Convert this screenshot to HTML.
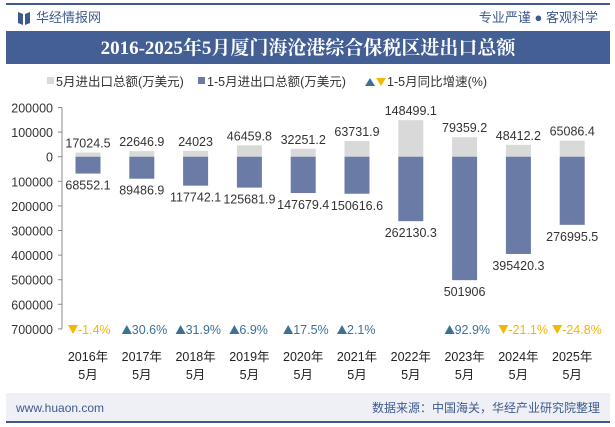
<!DOCTYPE html>
<html><head><meta charset="utf-8"><style>
body{margin:0;width:615px;height:427px;overflow:hidden;background:#fff;font-family:"Liberation Sans","Noto Sans CJK SC",sans-serif}
</style></head><body>
<svg width="615" height="427" xmlns="http://www.w3.org/2000/svg" style="position:absolute;left:0;top:0" font-family="Liberation Sans, Noto Sans CJK SC, sans-serif">
<rect x="6" y="3" width="604" height="2" fill="#3e5a8c"/>
<g>
<path d="M18 12 L23 14 L23 25 L18 23 Z M25 14 L30 12 L30 23 L25 25 Z" fill="#3e5a8c"/>
<text x="36" y="22" font-size="13" fill="#3e5a8c">华经情报网</text>
</g>
<text x="598" y="22" font-size="13" fill="#3e5a8c" text-anchor="end">专业严谨 ● 客观科学</text>
<rect x="6" y="31" width="604" height="33" fill="#445f94"/>
<text x="308" y="54" font-size="19" font-weight="bold" fill="#fff" text-anchor="middle" font-family="Liberation Serif, Noto Serif CJK SC, serif">2016-2025年5月厦门海沧港综合保税区进出口总额</text>
<g font-size="12.5" fill="#333">
<rect x="47" y="77" width="7" height="7" fill="#d9d9d9"/><text x="56" y="86">5月进出口总额(万美元)</text>
<rect x="198" y="77" width="7" height="7" fill="#6a7ca6"/><text x="207" y="86">1-5月进出口总额(万美元)</text>
<path d="M365 86 L370 78 L375 86 Z" fill="#3d7196"/><path d="M376 78 L386 78 L381 86 Z" fill="#f5b800"/><text x="387" y="86">1-5月同比增速(%)</text>
</g>
<g id="chart"></g>
<rect x="6" y="393" width="604" height="28" fill="#eef0f6"/>
<text x="16" y="412" font-size="12" fill="#3e5a8c">www.huaon.com</text>
<text x="600" y="412" font-size="12" fill="#3e5a8c" text-anchor="end">数据来源：中国海关，华经产业研究院整理</text>
<rect x="6" y="421" width="604" height="2" fill="#3e5a8c"/>
</svg>
<script>
const categories=["2016年","2017年","2018年","2019年","2020年","2021年","2022年","2023年","2024年","2025年"];
const mayValues=[17024.5,22646.9,24023,46459.8,32251.2,63731.9,148499.1,79359.2,48412.2,65086.4];
const ytdValues=[68552.1,89486.9,117742.1,125681.9,147679.4,150616.6,262130.3,501906,395420.3,276995.5];
const growth=[-1.4,30.6,31.9,6.9,17.5,2.1,null,92.9,-21.1,-24.8];
const yTicks=[200000,100000,0,-100000,-200000,-300000,-400000,-500000,-600000,-700000];
const NS="http://www.w3.org/2000/svg";
const g=document.getElementById('chart');
const x0=62,step=53.8;
function xPos(i){return x0+26+i*step;}
function yPos(v){return 156.7-v*24.6/100000;}
function mk(t,a,txt){const e=document.createElementNS(NS,t);for(const k in a)e.setAttribute(k,a[k]);if(txt!=null)e.textContent=txt;g.appendChild(e);return e;}
const ax=mk('line',{x1:x0,x2:x0,y1:yPos(200000),y2:yPos(-700000),stroke:'#888'});


yTicks.forEach(v=>{
 const t=mk('text',{x:x0-9,y:yPos(v)+5,'font-size':12.5,fill:'#333','text-anchor':'end'},String(Math.abs(v)));
 
 
 mk('line',{x1:x0-4,x2:x0,y1:yPos(v),y2:yPos(v),stroke:'#888'});
});
const bw=25;
categories.forEach((c,i)=>{
 const cx=xPos(i);
 const b1=mk('rect',{x:cx-bw/2,y:yPos(mayValues[i]),width:bw,height:yPos(0)-yPos(mayValues[i]),fill:'#d9d9d9'});
 
 
 const b2=mk('rect',{x:cx-bw/2,y:yPos(0),width:bw,height:yPos(-ytdValues[i])-yPos(0),fill:'#6a7ca6'});
 
 
 const l1=mk('text',{x:cx,y:yPos(mayValues[i])-5,'font-size':12.5,fill:'#333','text-anchor':'middle'},String(mayValues[i]));
 
 
 const l2=mk('text',{x:cx,y:yPos(-ytdValues[i])+16,'font-size':12.5,fill:'#333','text-anchor':'middle'},String(ytdValues[i]));
 
 
 if(growth[i]!=null){
  const up=growth[i]>=0, col=up?'#3d7196':'#f5b800', sx=cx-20, gy=334;
  const tri=mk('path',{d:up?`M${sx} ${gy} L${sx+5} ${gy-9} L${sx+10} ${gy} Z`:`M${sx} ${gy-9} L${sx+10} ${gy-9} L${sx+5} ${gy} Z`,fill:col});
  
  
  const gl=mk('text',{x:sx+10,y:gy,'font-size':12.5,fill:col},(up?'':'')+growth[i].toFixed(1)+'%');
  
  
 }
 const c1=mk('text',{x:cx,y:361,'font-size':12.5,fill:'#222','text-anchor':'middle'},c);
 
 
 const c2=mk('text',{x:cx,y:379,'font-size':12.5,fill:'#222','text-anchor':'middle'},'5月');
 
 
});
</script>
</body></html>
